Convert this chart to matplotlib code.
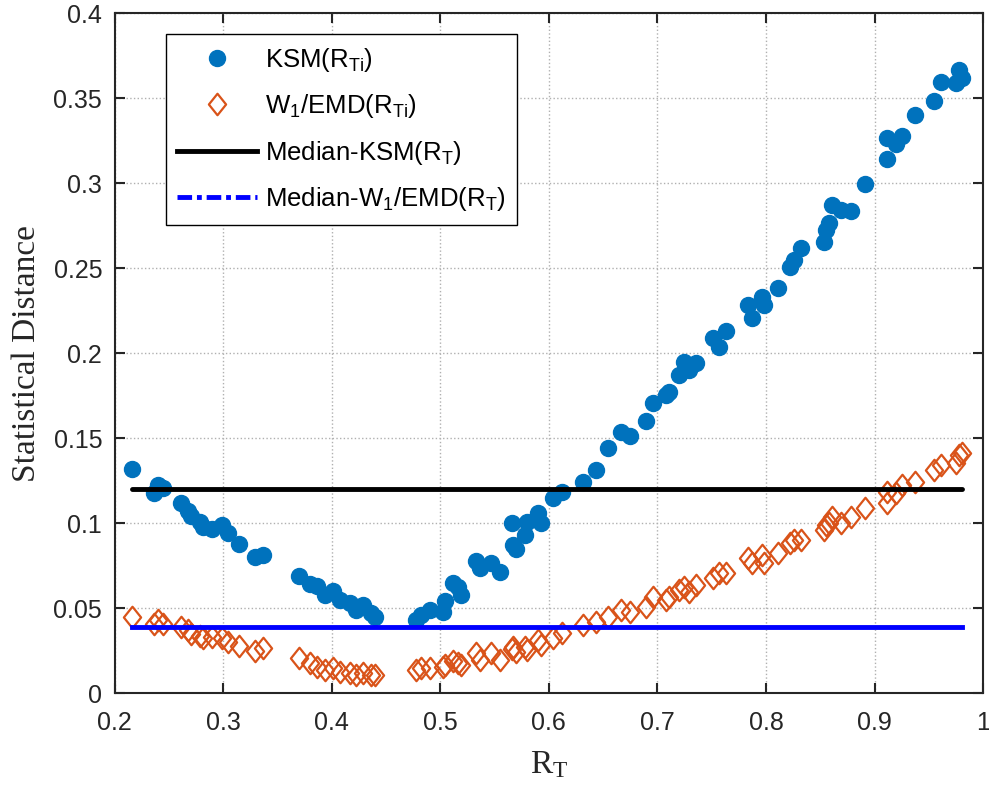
import matplotlib.pyplot as plt
from matplotlib.lines import Line2D
from matplotlib.path import Path

plt.rcParams['font.family'] = ['Liberation Sans', 'DejaVu Sans']
plt.rcParams['mathtext.default'] = 'regular'

# R_Ti values
r_t = [0.216, 0.2365, 0.240, 0.2448, 0.261, 0.268, 0.270, 0.2786, 0.2816, 0.290,
       0.2985, 0.3046, 0.3148, 0.3292, 0.3368, 0.3696, 0.3804, 0.386, 0.3936, 0.4012,
       0.4074, 0.4166, 0.4227, 0.4288, 0.4365, 0.4396, 0.4779, 0.4825, 0.4902, 0.5024,
       0.504, 0.5116, 0.5162, 0.5193, 0.5325, 0.5368, 0.5469, 0.5546, 0.5668, 0.5693,
       0.566, 0.5776, 0.5797, 0.5898, 0.5929, 0.6036, 0.6122, 0.6312, 0.6435, 0.6542,
       0.6665, 0.6748, 0.6895, 0.6956, 0.7079, 0.711, 0.7202, 0.7248, 0.7294, 0.7355,
       0.7508, 0.7563, 0.7631, 0.783, 0.7876, 0.7968, 0.7983, 0.8112, 0.822, 0.8259,
       0.8321, 0.8535, 0.8551, 0.8581, 0.8612, 0.8689, 0.8781, 0.8912, 0.9112, 0.9118,
       0.9201, 0.925, 0.9373, 0.9547, 0.9609, 0.9747, 0.9777, 0.9802]

ksm = [0.132, 0.118, 0.1225, 0.121, 0.112, 0.107, 0.104, 0.101, 0.098, 0.0965,
       0.099, 0.094, 0.088, 0.080, 0.0815, 0.069, 0.064, 0.063, 0.058, 0.060,
       0.055, 0.053, 0.049, 0.052, 0.047, 0.045, 0.043, 0.046, 0.049, 0.048,
       0.054, 0.065, 0.0627, 0.058, 0.078, 0.0735, 0.0765, 0.0715, 0.0872, 0.085,
       0.100, 0.093, 0.101, 0.106, 0.100, 0.1147, 0.1186, 0.1245, 0.1314, 0.1441,
       0.1539, 0.1514, 0.1604, 0.1706, 0.1755, 0.1774, 0.1872, 0.1951, 0.1902, 0.1941,
       0.2088, 0.2039, 0.2131, 0.2284, 0.2206, 0.2333, 0.2284, 0.2382, 0.251, 0.2549,
       0.2618, 0.2657, 0.2724, 0.2765, 0.2872, 0.2843, 0.2839, 0.2996, 0.3143, 0.3265,
       0.3231, 0.3278, 0.3402, 0.3484, 0.3594, 0.3588, 0.3666, 0.3618]

w1 = [0.045, 0.041, 0.043, 0.041, 0.039, 0.037, 0.035, 0.034, 0.0325, 0.033,
      0.0325, 0.030, 0.028, 0.025, 0.0265, 0.0205, 0.0176, 0.0157, 0.0137, 0.0147,
      0.0127, 0.0118, 0.0108, 0.0118, 0.0108, 0.0108, 0.0137, 0.0147, 0.0147, 0.0157,
      0.0167, 0.019, 0.018, 0.0167, 0.0235, 0.0196, 0.0235, 0.0196, 0.0274, 0.0245,
      0.026, 0.0274, 0.0255, 0.0314, 0.0284, 0.0324, 0.0353, 0.040, 0.042, 0.045,
      0.049, 0.048, 0.051, 0.0568, 0.0549, 0.0568, 0.0608, 0.0627, 0.0598, 0.0637,
      0.0676, 0.0706, 0.0706, 0.0794, 0.0765, 0.0814, 0.0765, 0.0824, 0.0882, 0.0902,
      0.0902, 0.0961, 0.099, 0.100, 0.1039, 0.100, 0.1039, 0.1088, 0.1118, 0.1186,
      0.1176, 0.1225, 0.1245, 0.1314, 0.1343, 0.1353, 0.1402, 0.1412]

median_ksm = 0.12
median_w1 = 0.039

diamond = Path([(0, 1), (0.8, 0), (0, -1), (-0.8, 0), (0, 1)],
               [Path.MOVETO, Path.LINETO, Path.LINETO, Path.LINETO, Path.CLOSEPOLY])

fig = plt.figure(figsize=(9.89, 7.9), dpi=100)
ax = fig.add_axes([0.1159, 0.1224, 0.8781, 0.8608])

ax.plot(r_t, ksm, 'o', color='#0072BD', markersize=11.5, label='KSM(R$_{Ti}$)', zorder=3)
ax.plot(r_t, w1, linestyle='none', marker=diamond, markersize=15.5, markerfacecolor='none',
        markeredgecolor='#D95319', markeredgewidth=1.6, label='W$_1$/EMD(R$_{Ti}$)', zorder=3)
ax.plot([min(r_t), max(r_t)], [median_ksm, median_ksm], color='black', lw=3.5,
        solid_capstyle='round', zorder=4)
ax.plot([min(r_t), max(r_t)], [median_w1, median_w1], color='#0000FF', lw=3.5, zorder=4)

handles, labels = ax.get_legend_handles_labels()
handles += [Line2D([], [], color='black', lw=3.5),
            Line2D([], [], color='#0000FF', lw=3.5, linestyle=(0, (3, 1, 1, 1)))]
labels += ['Median-KSM(R$_T$)', 'Median-W$_1$/EMD(R$_T$)']
leg = ax.legend(handles, labels, loc='upper left', bbox_to_anchor=(0.059, 0.9696),
                borderaxespad=0, fontsize=18.5, handlelength=3.1, handletextpad=0.3,
                labelspacing=0.72, borderpad=0.45, fancybox=False, framealpha=1,
                edgecolor='black')
leg.get_frame().set_linewidth(1.0)

ax.set_xlim(0.2, 1.0)
ax.set_ylim(0, 0.4)
ax.set_xticks([0.2, 0.3, 0.4, 0.5, 0.6, 0.7, 0.8, 0.9, 1.0])
ax.set_xticklabels(['0.2', '0.3', '0.4', '0.5', '0.6', '0.7', '0.8', '0.9', '1'])
ax.set_yticks([0, 0.05, 0.1, 0.15, 0.2, 0.25, 0.3, 0.35, 0.4])
ax.set_yticklabels(['0', '0.05', '0.1', '0.15', '0.2', '0.25', '0.3', '0.35', '0.4'])
ax.tick_params(direction='in', top=True, right=True, length=7, width=1.5,
               labelsize=18, colors='#262626')
ax.tick_params(axis='x', pad=13)
ax.tick_params(axis='y', pad=9)
ax.grid(True, linestyle=':', color='#b0b0b0', linewidth=1.0)
for s in ax.spines.values():
    s.set_linewidth(1.5)
    s.set_color('#262626')

ax.set_xlabel('R$_T$', fontsize=24, family='Liberation Serif', color='#262626', labelpad=10)
ax.set_ylabel('Statistical Distance', fontsize=24, family='Liberation Serif',
              color='#262626', labelpad=8)

fig.savefig('out.png', dpi=100)
